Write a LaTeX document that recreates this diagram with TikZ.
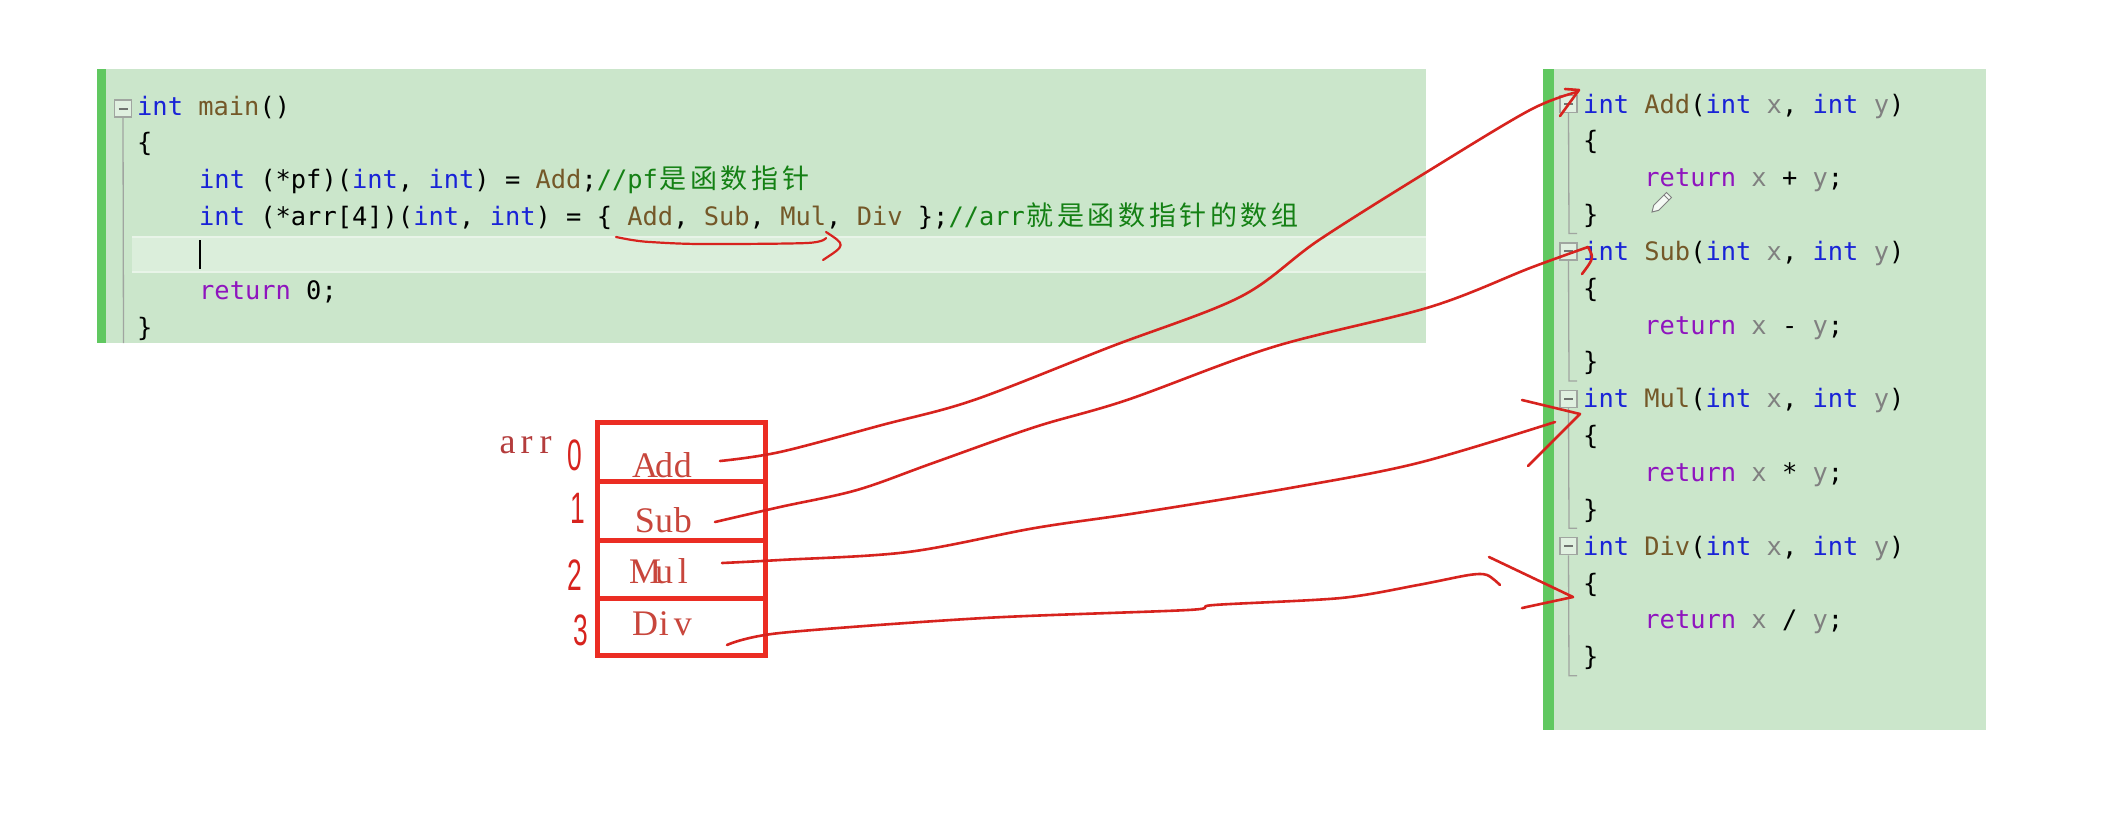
\documentclass[tikz,border=0pt]{standalone}
\usepackage{fontspec}
\setmainfont{Liberation Serif}
\newfontfamily\codefont{DejaVu Sans Mono}
\newfontfamily\cjk{Noto Sans CJK SC}
\newfontfamily\digitfont{Liberation Sans}
\definecolor{panelbg}{RGB}{203,230,203}
\definecolor{greenbar}{RGB}{96,200,96}
\definecolor{hlband}{RGB}{219,238,219}
\definecolor{hledge}{RGB}{232,244,232}
\definecolor{kwblue}{RGB}{25,35,215}
\definecolor{fnbrown}{RGB}{116,88,40}
\definecolor{rtpurple}{RGB}{143,20,190}
\definecolor{cmgreen}{RGB}{20,128,20}
\definecolor{pagray}{RGB}{128,128,128}
\definecolor{penred}{RGB}{215,35,30}
\definecolor{boxred}{RGB}{235,45,35}
\definecolor{celltxt}{RGB}{200,70,60}
\definecolor{arrtxt}{RGB}{180,60,60}
\definecolor{foldgray}{RGB}{160,165,160}
\newcommand\ckw[1]{\textcolor{kwblue}{#1}}
\newcommand\cfn[1]{\textcolor{fnbrown}{#1}}
\newcommand\crt[1]{\textcolor{rtpurple}{#1}}
\newcommand\ccm[1]{\textcolor{cmgreen}{#1}}
\newcommand\cpa[1]{\textcolor{pagray}{#1}}
\newcommand\cj[1]{\makebox[30.6pt]{\cjk\fontsize{27pt}{30pt}\selectfont #1}}
\newcommand\sz[1]{\makebox[19pt]{#1}}
\begin{document}
\begin{tikzpicture}[x=1pt,y=-1pt,
  code/.style={anchor=base west, inner sep=0pt, text=black, font=\codefont\fontsize{25.4pt}{30pt}\selectfont},
  foldbox/.style={draw=foldgray, line width=1.2pt, fill=panelbg!60!white, minimum size=17pt, inner sep=0pt},
  cell/.style={draw=boxred, line width=5pt, minimum width=168pt, inner sep=0pt},
  celltext/.style={anchor=base, inner sep=0pt, text=celltxt, font=\fontsize{36pt}{40pt}\selectfont},
  digit/.style={inner sep=0pt, text=penred, font=\digitfont\fontsize{44pt}{48pt}\selectfont, xscale=0.6},
  pen/.style={draw=penred, line width=2.6pt, line cap=round, line join=round},
  foldline/.style={draw=foldgray, line width=1.3pt}]
\useasboundingbox (0,0) rectangle (2115,828);
\fill[white] (0,0) rectangle (2115,828);

% ---------- left panel ----------
\fill[panelbg] (97,69) rectangle (1426,343);
\fill[greenbar] (97,69) rectangle (106,343);
\fill[hlband] (132,237) rectangle (1426,272);
\draw[hledge, line width=2pt] (132,237) -- (1426,237) (132,272) -- (1426,272);

\node[foldbox] (fm) at (123,108.5) {};
\draw[foldgray!70!black, line width=2pt] ([xshift=-4.5pt]fm.center) -- ([xshift=4.5pt]fm.center);
\draw[foldline] (fm.south) -- (123.5,343);

\node[code] (l1) at (137,115) {\ckw{int} \cfn{main}()};
\node[code] (l2) at (137,151.85) {\{};
\node[code] (l3) at (199,188.7) {\ckw{int} (*pf)(\ckw{int}, \ckw{int}) = \cfn{Add};\ccm{//pf\cj{是}\cj{函}\cj{数}\cj{指}\cj{针}}};
\node[code] (l4) at (199,225.55) {\ckw{int} (*arr[4])(\ckw{int}, \ckw{int}) = \{ \cfn{Add}, \cfn{Sub}, \cfn{Mul}, \cfn{Div} \};\ccm{//arr\cj{就}\cj{是}\cj{函}\cj{数}\cj{指}\cj{针}\cj{的}\cj{数}\cj{组}}};
\draw[black, line width=1.6pt] (200,240) -- (200,269);
\node[code] (l6) at (199,299.25) {\crt{return} 0;};
\node[code] (l7) at (137,336.1) {\}};

% ---------- right panel ----------
\fill[panelbg] (1543,69) rectangle (1986,730);
\fill[greenbar] (1543,69) rectangle (1554,730);

\foreach \yh/\nm in {113/fa,260.4/fb,407.8/fc,555.2/fd}{
  \node[foldbox] (\nm) at (1568.5,\yh-9) {};
  \draw[foldgray!70!black, line width=2pt] ([xshift=-4.5pt]\nm.center) -- ([xshift=4.5pt]\nm.center);
  \draw[foldline] (\nm.south) -- (1569,\yh+120.5) -- (1577,\yh+120.5);
}

\node[code] (ra1) at (1583,113) {\ckw{int} \cfn{Add}(\ckw{int} \cpa{x}, \ckw{int} \cpa{y})};
\node[code] (ra2) at (1583,149.85) {\{};
\node[code] (ra3) at (1644.2,186.7) {\crt{return} \cpa{x} + \cpa{y};};
\node[code] (ra4) at (1583,223.55) {\}};

\node[code] (rb1) at (1583,260.4) {\ckw{int} \cfn{Sub}(\ckw{int} \cpa{x}, \ckw{int} \cpa{y})};
\node[code] (rb2) at (1583,297.25) {\{};
\node[code] (rb3) at (1644.2,334.1) {\crt{return} \cpa{x} - \cpa{y};};
\node[code] (rb4) at (1583,370.95) {\}};

\node[code] (rc1) at (1583,407.8) {\ckw{int} \cfn{Mul}(\ckw{int} \cpa{x}, \ckw{int} \cpa{y})};
\node[code] (rc2) at (1583,444.65) {\{};
\node[code] (rc3) at (1644.2,481.5) {\crt{return} \cpa{x} * \cpa{y};};
\node[code] (rc4) at (1583,518.35) {\}};

\node[code] (rd1) at (1583,555.2) {\ckw{int} \cfn{Div}(\ckw{int} \cpa{x}, \ckw{int} \cpa{y})};
\node[code] (rd2) at (1583,592.05) {\{};
\node[code] (rd3) at (1644.2,628.9) {\crt{return} \cpa{x} / \cpa{y};};
\node[code] (rd4) at (1583,665.75) {\}};

% pencil cursor
\draw[gray, line width=1pt, fill=white!80!panelbg] (1652,212) -- (1653.7,205.3) -- (1666.5,192.5) -- (1671.5,197.5) -- (1658.7,210.3) -- cycle;
\draw[gray, line width=1pt] (1664,195) -- (1669,200);

% ---------- array ----------
\node[cell, minimum height=58.5pt] (c0) at (681.5,451.75) {};
\node[cell, minimum height=59pt] (c1) at (681.5,510.5) {};
\node[cell, minimum height=58pt] (c2) at (681.5,569) {};
\node[cell, minimum height=57.5pt] (c3) at (681.5,626.75) {};
\node[celltext] (t0) at (664,477) {\sz{A}\sz{d}\sz{d}};
\node[celltext] (t1) at (664,532) {\sz{S}\sz{u}\sz{b}};
\node[celltext] (t2) at (664,583) {\sz{M}\sz{u}\sz{l}};
\node[celltext] (t3) at (664,635) {\sz{D}\sz{i}\sz{v}};
\node[celltext, text=arrtxt] (arr) at (526.5,453) {\sz{a}\sz{r}\sz{r}};

\node[digit] (d0) at (575,455) {0};
\node[digit] (d1) at (578,508) {1};
\node[digit] (d2) at (575,575) {2};
\node[digit] (d3) at (581,630) {3};

% ---------- hand-drawn connectors ----------
\coordinate (s0) at (720,461);
\coordinate (e0) at (1577,92);
\coordinate (s1) at (715,522);
\coordinate (e1) at (1588,247);
\coordinate (s2) at (722,563);
\coordinate (e2) at (1555,422);
\coordinate (s3) at (727,645);
\coordinate (e3) at (1500,585);

\draw[pen] plot[smooth, tension=0.55] coordinates {(s0) (780,452) (882,425) (974,400) (1110,347) (1240,297) (1319,240) (1430,170) (1530,110) (e0)};
\draw[pen] plot[smooth, tension=0.55] coordinates {(s1) (780,507) (857,490) (933,463) (1035,427) (1127,400) (1273,347) (1430,307) (1530,268) (e1)};
\draw[pen] plot[smooth, tension=0.55] coordinates {(s2) (780,560) (908,552) (1035,528) (1137,513) (1290,488) (1418,463) (e2)};
\draw[pen] plot[smooth, tension=0.5] coordinates {(s3) (780,633) (984,618) (1188,610) (1214,605) (1341,598) (1418,585) (1469,575) (1487,575) (e3)};

% arrow marks
\draw[pen] (1565,89) -- (1579,90) -- (1560,116);
\draw[pen] (e1) .. controls (1594,258) .. (1582,274);
\draw[pen] (1522,400) -- (1580,414) -- (1528,466);
\draw[pen] (1489,557) -- (1573,597) -- (1522,608);

% underline arrow in code
\coordinate (u0) at (616,237);
\coordinate (u1) at (826,238);
\draw[pen, line width=2.2pt] plot[smooth, tension=0.5] coordinates {(u0) (632,240) (650,242) (700,244) (807,243) (u1)};
\draw[pen, line width=2.2pt] (826,232) .. controls (846,245) .. (823,260);
\end{tikzpicture}
\end{document}
